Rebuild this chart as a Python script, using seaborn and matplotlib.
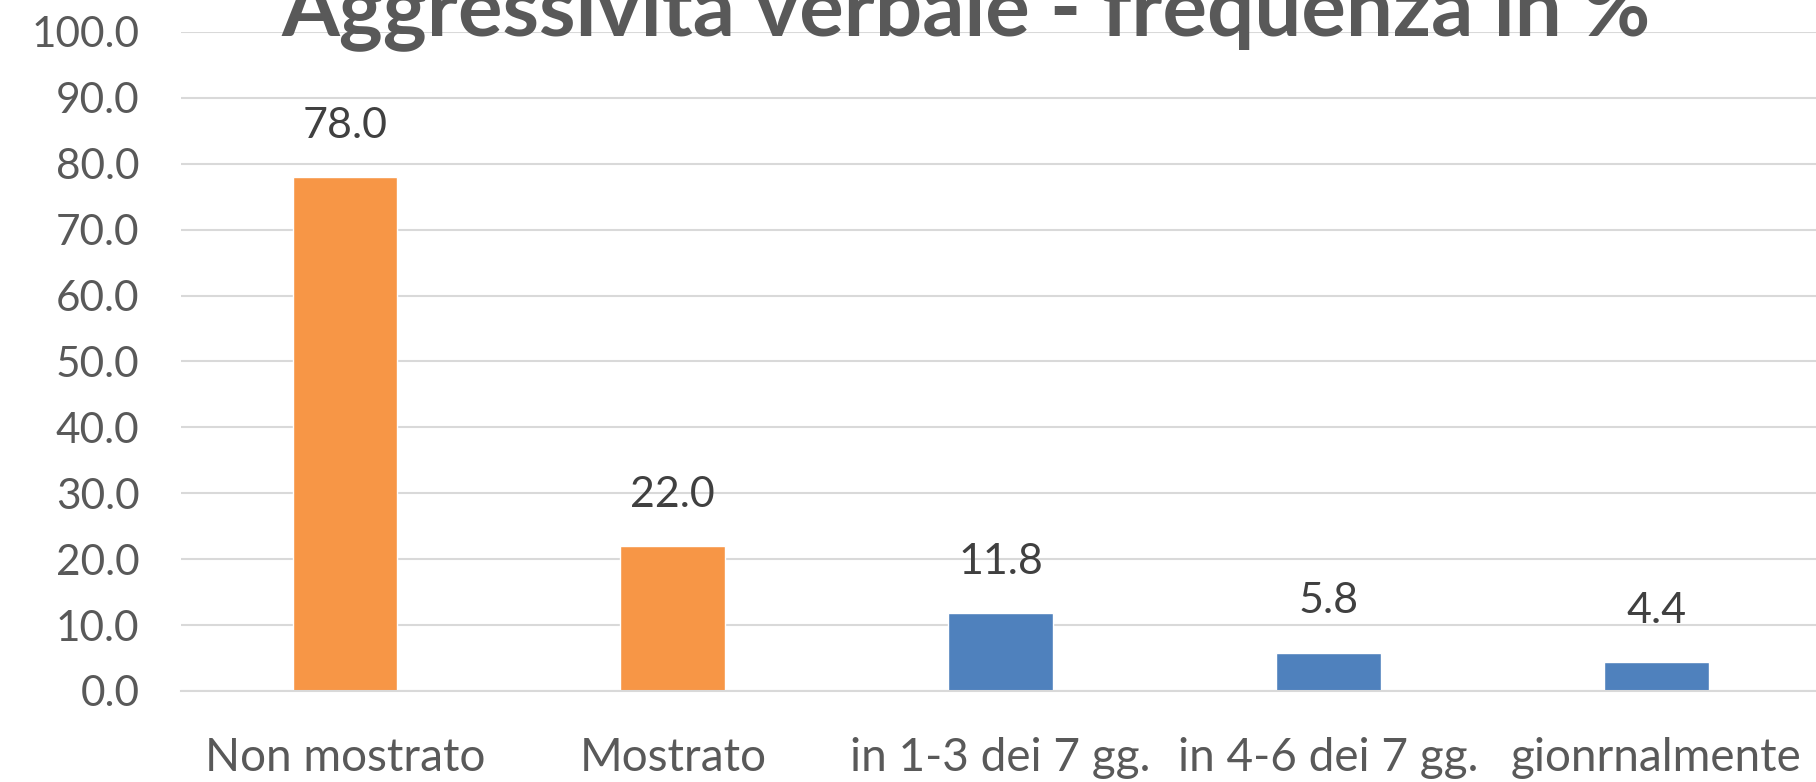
import matplotlib
matplotlib.use("Agg")
import matplotlib.pyplot as plt
import seaborn as sns
import pandas as pd

categories = ["Non mostrato", "Mostrato", "in 1-3 dei 7 gg.", "in 4-6 dei 7 gg.", "gionrnalmente"]
values = [78.0, 22.0, 11.8, 5.8, 4.4]
bar_colors = ["#F79646", "#F79646", "#4F81BD", "#4F81BD", "#4F81BD"]
title = "Aggressività verbale - frequenza in %"

sns.set_style("white")
plt.rcParams['font.family'] = ['Lato', 'DejaVu Sans']

df = pd.DataFrame({"cat": categories, "val": values})

fig = plt.figure(figsize=(18.16, 7.82), dpi=100)
ax = fig.add_axes([0.0997, 0.1164, 0.9026, 0.8427])

sns.barplot(data=df, x="cat", y="val", hue="cat", palette=bar_colors,
            width=0.32, legend=False, ax=ax, saturation=1)

ax.set_ylim(0, 100)
ax.set_xlim(-0.5, 4.5)
ax.set_yticks(range(0, 101, 10))
ax.set_yticklabels([f"{v:.1f}" for v in range(0, 101, 10)])
ax.yaxis.grid(True, color="#D9D9D9", linewidth=1.5)
ax.set_axisbelow(True)
for s in ["top", "right", "left"]:
    ax.spines[s].set_visible(False)
ax.spines["bottom"].set_color("#D9D9D9")
ax.spines["bottom"].set_linewidth(1.5)
ax.tick_params(axis="y", length=0, pad=30, labelsize=30.5, labelcolor="#595959")
ax.tick_params(axis="x", length=0, pad=33, labelsize=33, labelcolor="#595959")
ax.set_xlabel("")
ax.set_ylabel("")

for i, v in enumerate(values):
    ax.annotate(f"{v:.1f}", (i, v), xytext=(0, 37), textcoords="offset points",
                ha="center", va="center", fontsize=31, color="#404040")

fig.text(0.532, 0.955, title, ha="center", va="baseline", fontsize=60,
         fontweight="bold", color="#595959")

fig.savefig("out.png", dpi=100)
